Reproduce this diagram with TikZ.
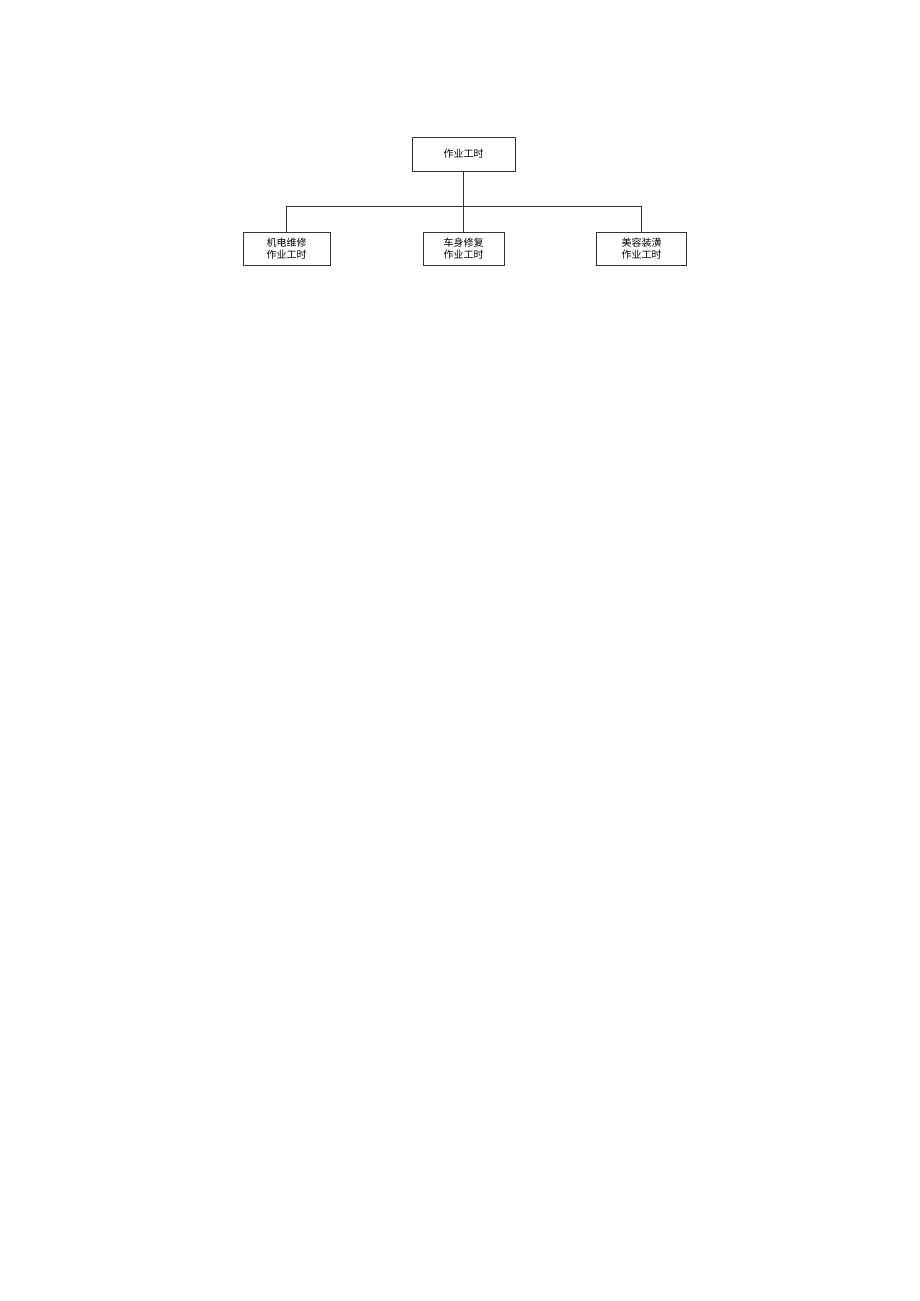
\documentclass[tikz,border=0pt]{standalone}
\usepackage{fontspec}
\setmainfont{Noto Sans CJK SC}
\usepackage{tikz}

\begin{document}
\begin{tikzpicture}[x=1pt,y=-1pt,
  box/.style={draw=black!80,line width=0.7pt,inner sep=0,outer sep=0,align=center,font=\fontsize{10}{12}\selectfont}]
\useasboundingbox (0,0) rectangle (920,1301);
\node[box,minimum width=103pt,minimum height=34pt] (TOP) at (463.5,154) {作业工时};
\node[box,minimum width=87pt,minimum height=33pt] (ME) at (286.5,248.7) {机电维修\\作业工时};
\node[box,minimum width=81pt,minimum height=33pt] (BODY) at (463.5,248.7) {车身修复\\作业工时};
\node[box,minimum width=90pt,minimum height=33pt] (BEAUTY) at (641.7,248.7) {美容装潢\\作业工时};

\coordinate (BUS) at (463.5,206.7);
\draw[black!80,line width=0.7pt] (TOP.south) -- (BODY.north);
\draw[black!80,line width=0.7pt] (ME.north) |- (BUS) -| (BEAUTY.north);
\end{tikzpicture}
\end{document}
